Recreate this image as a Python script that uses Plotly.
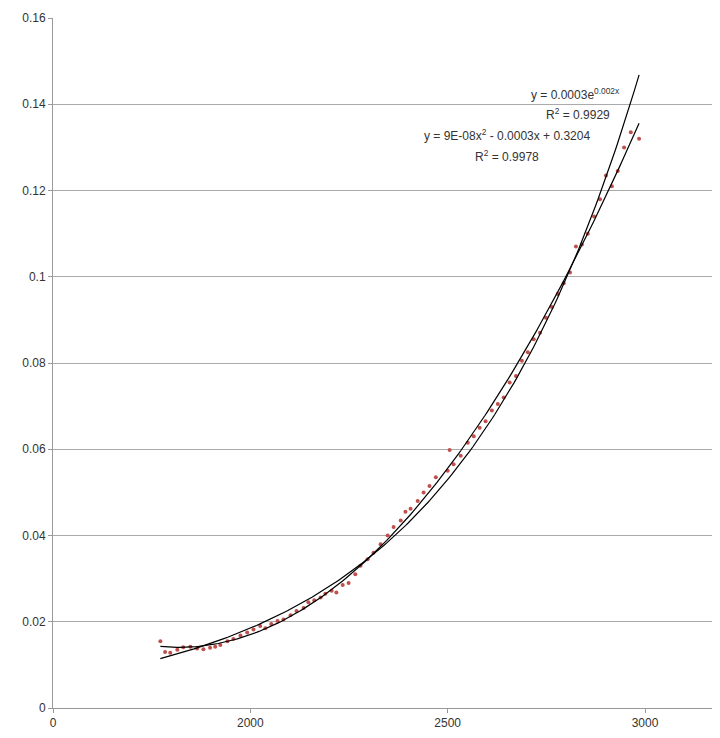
import numpy as np
import plotly.graph_objects as go

px_x = [155,160,165,172,178,185,192,198,205,210,215,222,228,235,242,248,255,260,266,272,278,285,291,298,303,309,315,320,326,331,337,343,350,355,362,368,375,382,388,395,400,405,412,418,424,430,444,442,448,455,462,468,474,480,486,492,498,504,510,516,522,528,534,540,546,552,558,564,570,576,582,588,594,600,606,612,618,625,633]
x_vals = [round(2000 + (p - 245) / 0.394) for p in px_x]
y_vals = [0.0155,0.013,0.0128,0.0135,0.0141,0.0142,0.0138,0.0136,0.014,0.0142,0.0146,0.0155,0.016,0.0168,0.0175,0.0182,0.019,0.0185,0.0195,0.0202,0.0205,0.0215,0.0225,0.0232,0.0245,0.025,0.0256,0.0265,0.0272,0.0268,0.0285,0.029,0.031,0.033,0.0345,0.036,0.038,0.04,0.042,0.0435,0.0455,0.0462,0.048,0.05,0.0515,0.0535,0.0598,0.055,0.0565,0.0585,0.0615,0.063,0.065,0.0665,0.069,0.0705,0.072,0.0755,0.077,0.0805,0.0825,0.0855,0.087,0.0905,0.093,0.096,0.0985,0.101,0.107,0.1075,0.11,0.114,0.118,0.1235,0.121,0.1245,0.13,0.1335,0.132]

x_ticks = [1500, 2000, 2500, 3000]
x_tick_text = ["0", "2000", "2500", "3000"]
y_ticks = [0, 0.02, 0.04, 0.06, 0.08, 0.1, 0.12, 0.14, 0.16]
y_tick_text = ["0", "0.02", "0.04", "0.06", "0.08", "0.1", "0.12", "0.14", "0.16"]

xa = np.array(x_vals, float); ya = np.array(y_vals)
xs = np.linspace(xa.min(), xa.max(), 200)
q = np.polyfit(xa, ya, 2)
e = np.polyfit(xa, np.log(ya), 1)

fig = go.Figure()
fig.add_trace(go.Scatter(x=x_vals, y=y_vals, mode="markers",
                         marker=dict(size=4, color="#c0504d")))
fig.add_trace(go.Scatter(x=xs, y=np.exp(np.polyval(e, xs)), mode="lines",
                         line=dict(color="black", width=1.2)))
fig.add_trace(go.Scatter(x=xs, y=np.polyval(q, xs), mode="lines",
                         line=dict(color="black", width=1.2)))

fnt = dict(family="Liberation Sans, Arial", size=12, color="#333")
fig.add_annotation(x=2825, y=0.1423, text="y = 0.0003e<sup>0.002x</sup>", showarrow=False, font=fnt)
fig.add_annotation(x=2830, y=0.1378, text="R<sup>2</sup> = 0.9929", showarrow=False, font=fnt)
fig.add_annotation(x=2650, y=0.1328, text="y = 9E-08x<sup>2</sup> - 0.0003x + 0.3204", showarrow=False, font=fnt)
fig.add_annotation(x=2650, y=0.1280, text="R<sup>2</sup> = 0.9978", showarrow=False, font=fnt)

fig.update_layout(
    width=720, height=738, showlegend=False,
    paper_bgcolor="white", plot_bgcolor="white",
    margin=dict(l=45, r=8, t=10, b=38),
    font=dict(family="Liberation Sans, Arial", size=12, color="#333"),
)
fig.update_xaxes(range=[1500, 3190], tickvals=x_ticks, ticktext=x_tick_text,
                 showgrid=False, showline=True, linecolor="#999", ticks="outside",
                 ticklen=4, tickcolor="#999", zeroline=False, automargin=False)
fig.update_yaxes(range=[0, 0.16], tickvals=y_ticks, ticktext=y_tick_text, showgrid=True,
                 gridcolor="#aaa", showline=True, linecolor="#999", ticks="outside",
                 ticklen=4, tickcolor="#999", zeroline=False, automargin=False)
fig.write_html("out.html")
